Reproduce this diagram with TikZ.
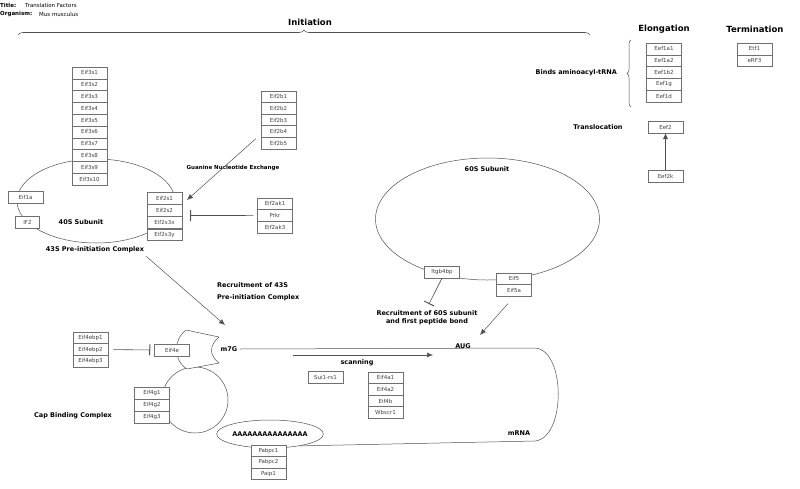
\documentclass[tikz,border=0pt]{standalone}
\usepackage{fontspec}
\setmainfont{DejaVu Sans}
\usetikzlibrary{arrows.meta,positioning,decorations.pathreplacing,shapes.geometric}
\definecolor{boxline}{HTML}{707070}
\definecolor{boxtext}{HTML}{404040}
\definecolor{wire}{HTML}{505050}

\begin{document}
\begin{tikzpicture}[x=1pt,y=-1pt,>=Latex,
  gene/.style={draw=boxline,fill=white,line width=.5pt,minimum width=35,
    minimum height=11.8,inner sep=0pt,text=boxtext,font=\fontsize{5.5}{6}\selectfont},
  lbl/.style={inner sep=0pt,font=\fontsize{6.5}{8}\selectfont\bfseries},
  head/.style={inner sep=0pt,font=\fontsize{8.5}{10}\selectfont\bfseries},
  meta/.style={inner sep=0pt,anchor=west,font=\fontsize{5.5}{6}\selectfont},
  flow/.style={-{Latex[length=6pt,width=5pt]},draw=wire,line width=.5pt},
  block/.style={-{Bar[width=11pt,line width=1pt]},draw=wire,line width=.6pt},
  shell/.style={draw=wire,line width=.5pt}]
\useasboundingbox (0,0) rectangle (800,488);

% header
\node[meta,font=\fontsize{5.5}{6}\selectfont\bfseries] (ttl) at (0,5) {Title:};
\node[meta] (ttlv) at (25,5) {Translation Factors};
\node[meta,font=\fontsize{5.5}{6}\selectfont\bfseries] (org) at (0,14) {Organism:};
\node[meta] (orgv) at (39,14) {Mus musculus};

% stages
\node[head] (init) at (310,22) {Initiation};
\draw[decorate,decoration={brace,amplitude=5pt},draw=wire,line width=.6pt]
  (18,35) -- (590,35);
\node[head] (elong) at (664,29) {Elongation};
\node[head] (term) at (755,29) {Termination};

% elongation
\draw[decorate,decoration={brace,amplitude=4pt},draw=wire,line width=.5pt]
  (631,107) -- (631,40);
\node[lbl,anchor=east] (aatrna) at (617,73) {Binds aminoacyl-tRNA};
\foreach \g [count=\i] in {Eef1a1,Eef1a2,Eef1b2,Eef1g,Eef1d}
  \node[gene] (eef\i) at (664,{43+11.8*(\i-0.5)}) {\g};
\node[lbl] (transl) at (598,127) {Translocation};
\node[gene] (eef2) at (665.5,127) {Eef2};
\node[gene] (eef2k) at (665.5,176) {Eef2k};
\draw[flow] (eef2k) -- (eef2);

% termination
\foreach \g [count=\i] in {Etf1,eRF3}
  \node[gene] (term\i) at (754.5,{43+11.8*(\i-0.5)}) {\g};

% 40S subunit
\draw[shell] (96,201) ellipse [x radius=79,y radius=42];
\foreach \g [count=\i] in {Eif3s1,Eif3s2,Eif3s3,Eif3s4,Eif3s5,Eif3s6,Eif3s7,Eif3s8,Eif3s9,Eif3s10}
  \node[gene] (e3s\i) at (89.5,{67+11.8*(\i-0.5)}) {\g};
\node[gene,minimum width=35] (eif1a) at (25.5,197.5) {Eif1a};
\node[gene,minimum width=24] (if2) at (27.5,222.5) {IF2};
\node[lbl] (s40) at (81,222) {40S Subunit};
\foreach \g [count=\i] in {Eif2s1,Eif2s2,Eif2s3x,Eif2s3y}
  \node[gene] (e2s\i) at (164.5,{192+12.2*(\i-0.5)}) {\g};
\node[lbl] (c43) at (95,250) {43S Pre-initiation Complex};

\foreach \g [count=\i] in {Eif2b1,Eif2b2,Eif2b3,Eif2b4,Eif2b5}
  \node[gene] (e2b\i) at (278.5,{91+11.6*(\i-0.5)}) {\g};
\node[lbl,font=\fontsize{5.5}{6}\selectfont\bfseries] (gne) at (233,168) {Guanine Nucleotide Exchange};
\coordinate (gnetip) at (187,200);
\draw[flow] ([xshift=-5pt,yshift=-1pt]e2b4.south west) -- (gnetip);

\foreach \g [count=\i] in {Eif2ak1,Prkr,Eif2ak3}
  \node[gene] (e2ak\i) at (275,{198+11.7*(\i-0.5)}) {\g};
\coordinate (e2bar) at (190,215.5);
\draw[block] ([xshift=-4pt]e2ak2.west) -- (e2bar);

% 60S subunit
\draw[shell] (487.5,219) ellipse [x radius=112,y radius=61];
\node[lbl] (s60) at (487,169) {60S Subunit};
\node[gene] (itgb) at (442,272) {Itgb4bp};
\foreach \g [count=\i] in {Eif5,Eif5a}
  \node[gene] (e5\i) at (514,{273+11.6*(\i-0.5)}) {\g};
\coordinate (itgbbar) at (429,304);
\draw[block] (itgb.south) -- (itgbbar);
\node[lbl,align=center] (r60) at (427,318)
  {Recruitment of 60S subunit\\and first peptide bond};
\coordinate (augtip) at (480,335);
\draw[flow] ([xshift=-6pt,yshift=-7pt]e52.south) -- (augtip);

% mRNA
\node[lbl] (m7g) at (229,349) {m7G};
\node[lbl] (aug) at (463,346) {AUG};
\node[draw=wire,line width=.5pt,ellipse,minimum width=104,minimum height=28,
  inner sep=0pt,font=\fontsize{6.5}{8}\selectfont\bfseries] (polya) at (270,434) {AAAAAAAAAAAAAAA};
\draw[shell] ([xshift=2pt]m7g.east) -- (535,348)
  .. controls (566,350) and (566,438) .. (535,441) -- (polya.-22);
\node[lbl] (mrna) at (519,433) {mRNA};
\coordinate (scanA) at (293,355);
\coordinate (scanB) at (433,355);
\draw[flow] (scanA) -- (scanB);
\node[lbl] (scan) at (357,363) {scanning};
\node[gene] (sui) at (325.5,377) {Sui1-rs1};
\foreach \g [count=\i] in {Eif4a1,Eif4a2,Eif4b,Wbscr1}
  \node[gene] (e4a\i) at (385.5,{372+11.6*(\i-0.5)}) {\g};
\foreach \g [count=\i] in {Pabpc1,Pabpc2,Paip1}
  \node[gene] (pab\i) at (268.5,{445+11.5*(\i-0.5)}) {\g};

% cap binding complex
\draw[shell] (195,400) circle [radius=33];
\draw[shell,fill=white] (186,330) -- (219,337) .. controls (209,346) and (209,355) .. (219,363)
  -- (187,369) .. controls (173,360) and (173,340) .. (186,330);
\node[gene] (e4e) at (172,350) {Eif4e};
\foreach \g [count=\i] in {Eif4ebp1,Eif4ebp2,Eif4ebp3}
  \node[gene] (e4bp\i) at (90.5,{332+11.7*(\i-0.5)}) {\g};
\draw[block,shorten <=5pt,shorten >=4pt] (e4bp2.east) -- (e4e.west);
\foreach \g [count=\i] in {Eif4g1,Eif4g2,Eif4g3}
  \node[gene] (e4g\i) at (152,{387+12*(\i-0.5)}) {\g};
\node[lbl] (cbc) at (73,416) {Cap Binding Complex};

\coordinate (captip) at (225,325);
\draw[flow] ([xshift=2pt,yshift=-3pt]c43.south east) -- (captip);
\node[lbl,anchor=west,align=left,font=\fontsize{6.5}{12}\selectfont\bfseries] (r43) at (217,292)
  {Recruitment of 43S\\Pre-initiation Complex};
\end{tikzpicture}
\end{document}
